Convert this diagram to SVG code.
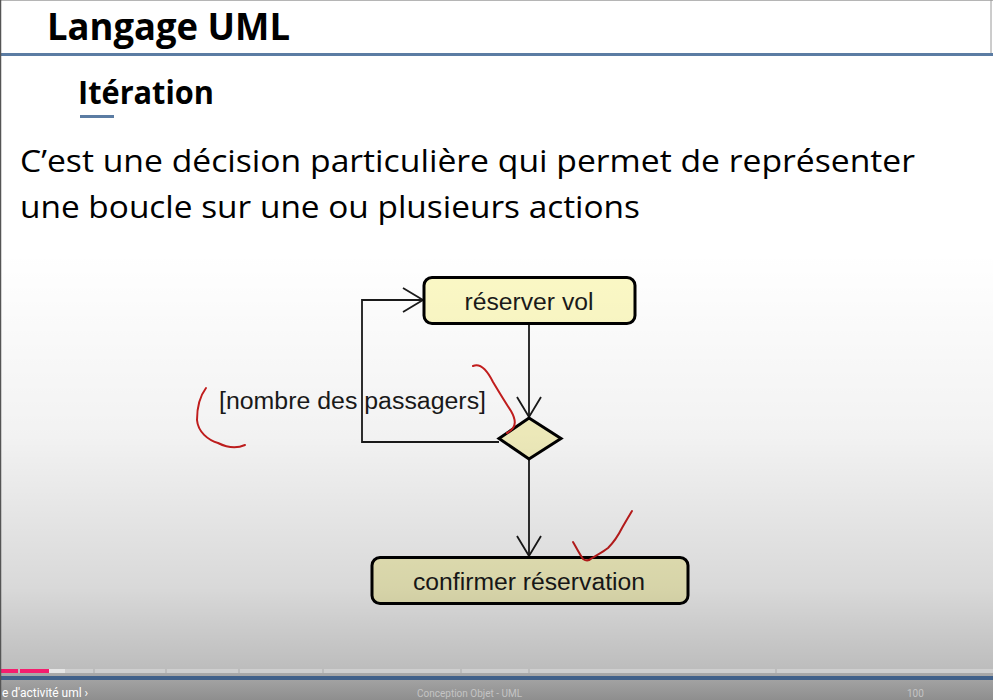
<svg xmlns="http://www.w3.org/2000/svg" width="993" height="700" viewBox="0 0 993 700">
  <defs>
    <linearGradient id="shade" x1="0" y1="0" x2="0" y2="700" gradientUnits="userSpaceOnUse">
      <stop offset="0.36" stop-color="#000" stop-opacity="0"/>
      <stop offset="0.62" stop-color="#000" stop-opacity="0.05"/>
      <stop offset="0.84" stop-color="#000" stop-opacity="0.15"/>
      <stop offset="0.955" stop-color="#000" stop-opacity="0.26"/>
    </linearGradient>
    <linearGradient id="barBg" x1="0" y1="0" x2="0" y2="1">
      <stop offset="0" stop-color="#a9a9a9"/>
      <stop offset="1" stop-color="#8e8e8e"/>
    </linearGradient>
    <marker id="open" viewBox="0 0 24 26" refX="22" refY="13" markerWidth="24" markerHeight="26" markerUnits="userSpaceOnUse" orient="auto">
      <path d="M2,1 L22,13 L2,25" fill="none" stroke="#1a1a1a" stroke-width="1.8"/>
    </marker>
  </defs>
  <style>
    .slide { font-family: "Open Sans", "Liberation Sans", sans-serif; fill: #000; }
    .uml { font-family: "Liberation Sans", Arial, sans-serif; font-size: 23.5px; fill: #1a1a1a; }
    .action { stroke: #000; stroke-width: 3; }
    .flow { fill: none; stroke: #1a1a1a; stroke-width: 1.8; }
    .ink { fill: none; stroke: #c81e1e; stroke-width: 2; stroke-linecap: round; stroke-linejoin: round; }
    .ctl { font-family: Roboto, "Liberation Sans", sans-serif; }
  </style>

  <!-- page -->
  <rect x="0" y="0" width="993" height="700" fill="#ffffff"/>
  <line x1="0" y1="0.5" x2="993" y2="0.5" stroke="#b5b5b5" stroke-width="1"/>
  <line x1="991" y1="0" x2="991" y2="54" stroke="#9a9a9a" stroke-width="1"/>

  <!-- heading -->
  <text class="slide" x="47" y="40" font-size="38" font-weight="bold" textLength="243" lengthAdjust="spacingAndGlyphs">Langage UML</text>
  <rect x="0" y="53" width="993" height="3" fill="#5b7ca3"/>
  <text class="slide" x="78" y="104" font-size="33" font-weight="bold" textLength="136" lengthAdjust="spacingAndGlyphs">Itération</text>
  <rect x="80" y="115" width="34" height="3" fill="#5b7ca3"/>

  <!-- body text -->
  <text class="slide" x="20" y="172" font-size="31" textLength="895" lengthAdjust="spacingAndGlyphs">C’est une décision particulière qui permet de représenter</text>
  <text class="slide" x="20" y="218" font-size="31" textLength="620" lengthAdjust="spacingAndGlyphs">une boucle sur une ou plusieurs actions</text>

  <!-- guard label -->
  <text class="uml" x="219" y="409" textLength="267" lengthAdjust="spacingAndGlyphs">[nombre des passagers]</text>

  <!-- connectors -->
  <g id="connectors">
    <line class="flow" x1="529" y1="324" x2="529" y2="417" marker-end="url(#open)"/>
    <polyline class="flow" points="499,442 362,442 362,300 423,300" marker-end="url(#open)"/>
    <line class="flow" x1="529" y1="459" x2="529" y2="556" marker-end="url(#open)"/>
  </g>

  <!-- nodes -->
  <g id="reserver-vol">
    <rect class="action" x="424" y="277.5" width="211" height="46" rx="8" fill="#fcf9c6"/>
    <text class="uml" x="529" y="310" text-anchor="middle" textLength="129" lengthAdjust="spacingAndGlyphs">réserver vol</text>
  </g>
  <g id="decision">
    <polygon points="529,418 561,438.5 529,459 499,438.5" fill="#f8f4c2" stroke="#000" stroke-width="3" stroke-linejoin="miter"/>
  </g>
  <g id="confirmer-reservation">
    <rect class="action" x="372" y="557.5" width="316" height="46" rx="8" fill="#fcf9c6"/>
    <text class="uml" x="529" y="590" text-anchor="middle" textLength="232" lengthAdjust="spacingAndGlyphs">confirmer réservation</text>
  </g>

  <!-- hand-drawn marks -->
  <path class="ink" d="M206,388 C200,396 197,408 197,420 C198,432 208,440 218,443 C226,447 236,449 245,445"/>
  <path class="ink" d="M473,366 C480,363 487,370 493,382 C499,392 505,402 511,411 C515,418 516,424 513,428 C511,431 509,432 507,433"/>
  <path class="ink" d="M573,542 C576,547 579,553 583,559 C586,561 589,561 592,558 C597,555 603,552 608,548 C614,542 618,536 622,528 C626,521 629,516 632,511"/>

  <!-- player shading over the frame -->
  <rect x="0" y="0" width="993" height="700" fill="url(#shade)"/>

  <!-- player controls -->
  <rect x="0" y="673" width="993" height="27" fill="url(#barBg)"/>
  <g fill="#cfcfcf">
    <rect x="65" y="669" width="28" height="4"/>
    <rect x="95" y="669" width="70" height="4"/>
    <rect x="167" y="669" width="71" height="4"/>
    <rect x="240" y="669" width="82" height="4"/>
    <rect x="324" y="669" width="136" height="4"/>
    <rect x="462" y="669" width="66" height="4"/>
    <rect x="530" y="669" width="245" height="4"/>
    <rect x="777" y="669" width="216" height="4"/>
  </g>
  <rect x="49" y="669" width="16" height="4" fill="#e6e6e6"/>
  <rect x="0" y="669" width="18" height="4" fill="#f51d6e"/>
  <rect x="20" y="669" width="29" height="4" fill="#f51d6e"/>
  <rect x="0" y="676" width="993" height="4" fill="#41618a"/>
  <text class="ctl" x="2" y="697" font-size="12" fill="#ffffff">e d'activité uml  ›</text>
  <text class="ctl" x="417" y="697" font-size="10" fill="#c4c4c4">Conception Objet - UML</text>
  <text class="ctl" x="907" y="697" font-size="10" fill="#c4c4c4">100</text>

  <!-- frame edge -->
  <line x1="0.5" y1="0" x2="0.5" y2="700" stroke="#555" stroke-width="1.5"/>
</svg>
